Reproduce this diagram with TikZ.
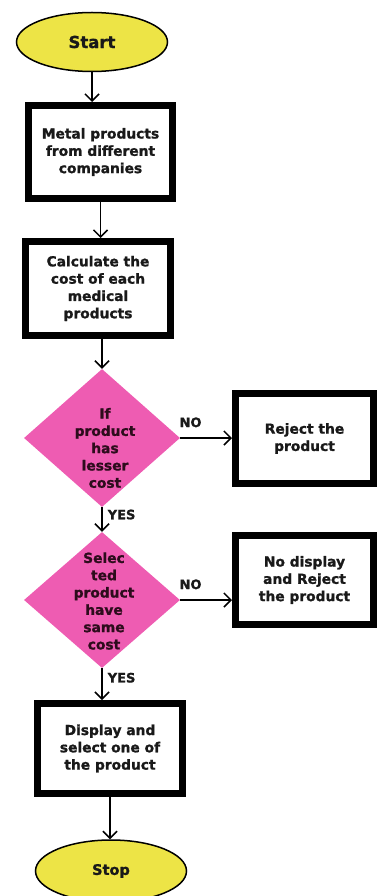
\documentclass[tikz,border=0pt]{standalone}
\usepackage{fontspec}
\setmainfont{DejaVu Sans}[BoldFeatures={FakeBold=1.2}]
\usepackage{tikz}
\usetikzlibrary{arrows.meta,shapes,positioning,calc}
\usepackage{xcolor}
\definecolor{fcyellow}{RGB}{237,228,70}
\definecolor{fcpink}{RGB}{238,92,178}
\definecolor{fcdark}{RGB}{25,25,25}
\definecolor{fcmaroon}{RGB}{45,12,28}
\tikzstyle{arrow} = [line width=1.5pt,-{Straight Barb[length=7pt,width=14pt,line width=1.5pt]},color=black]
\tikzstyle{terminal} = [ellipse, draw=black, line width=1.5pt, fill=fcyellow, minimum width=151pt, minimum height=59pt, inner sep=0pt, text=fcdark, font=\fontsize{14.5}{17}\selectfont\bfseries]
\tikzstyle{process} = [rectangle, draw=black, line width=7pt, fill=white, inner sep=0pt, text=fcdark, align=center, font=\fontsize{13.8}{17.3}\selectfont\bfseries]
\tikzstyle{decision} = [diamond, draw=none, fill=fcpink, minimum width=156pt, minimum height=138pt, inner sep=0pt]
\tikzstyle{dtext} = [align=center, text=fcmaroon, inner sep=0pt, font=\fontsize{13.8}{17.3}\selectfont\bfseries]
\tikzstyle{answer} = [font=\fontsize{13}{15}\selectfont\bfseries, text=fcdark, inner sep=1pt]

\begin{document}
\begin{tikzpicture}[x=1pt, y=-1pt]
    \useasboundingbox (0,0) rectangle (377,896);

    % Start / Stop
    \node[terminal, font=\fontsize{16.5}{19}\selectfont\bfseries] (start) at (92, 42) {Start};
    \node[terminal, minimum height=62pt] (stop) at (111, 871) {Stop};

    % Process boxes
    \node[process, minimum width=144pt, minimum height=93pt] (metal) at (100.5, 152) {Metal products\\from different\\companies};
    \node[process, minimum width=145pt, minimum height=94pt] (calc) at (98, 288.5) {Calculate the\\cost of each\\medical\\products};
    \node[process, minimum width=145pt, minimum height=90pt] (show) at (110, 748.5) {Display and\\select one of\\the product};

    % Decisions
    \node[decision] (lesser) at (102, 438) {};
    \node[dtext] (lessertxt) at ([xshift=3pt, yshift=-10pt]lesser) {If\\product\\has\\lesser\\cost};
    \node[decision, minimum height=136pt] (same) at (102, 600) {};
    \node[dtext] (sametxt) at ([xshift=2pt, yshift=-1pt]same) {Selec\\ted\\product\\have\\same\\cost};

    % Rejections
    \node[process, minimum width=138pt, minimum height=90pt] (reject) at (304.5, 438.5) {Reject the\\product};
    \node[process, minimum width=138pt, minimum height=89pt] (nodisp) at (304.5, 580) {No display\\and Reject\\the product};

    % Arrows
    \draw[arrow] (start.south) -- (start.south |- metal.north);
    \draw[arrow] (metal.south) -- (metal.south |- calc.north);
    \draw[arrow] (lesser.north |- calc.south) -- (lesser.north);
    \draw[arrow] (lesser.east) -- (lesser.east -| reject.west) node[answer, pos=0.2, above=9pt] (no1) {NO};
    \draw[arrow] (lesser.south) -- (same.north) node[answer, pos=0.3, right=4pt] (yes1) {YES};
    \draw[arrow] (same.east) -- (same.east -| nodisp.west) node[answer, pos=0.2, above=9pt] (no2) {NO};
    \draw[arrow] (same.south) -- (same.south |- show.north) node[answer, pos=0.3, right=4pt] (yes2) {YES};
    \draw[arrow] (show.south) -- (show.south |- stop.north);
\end{tikzpicture}
\end{document}
